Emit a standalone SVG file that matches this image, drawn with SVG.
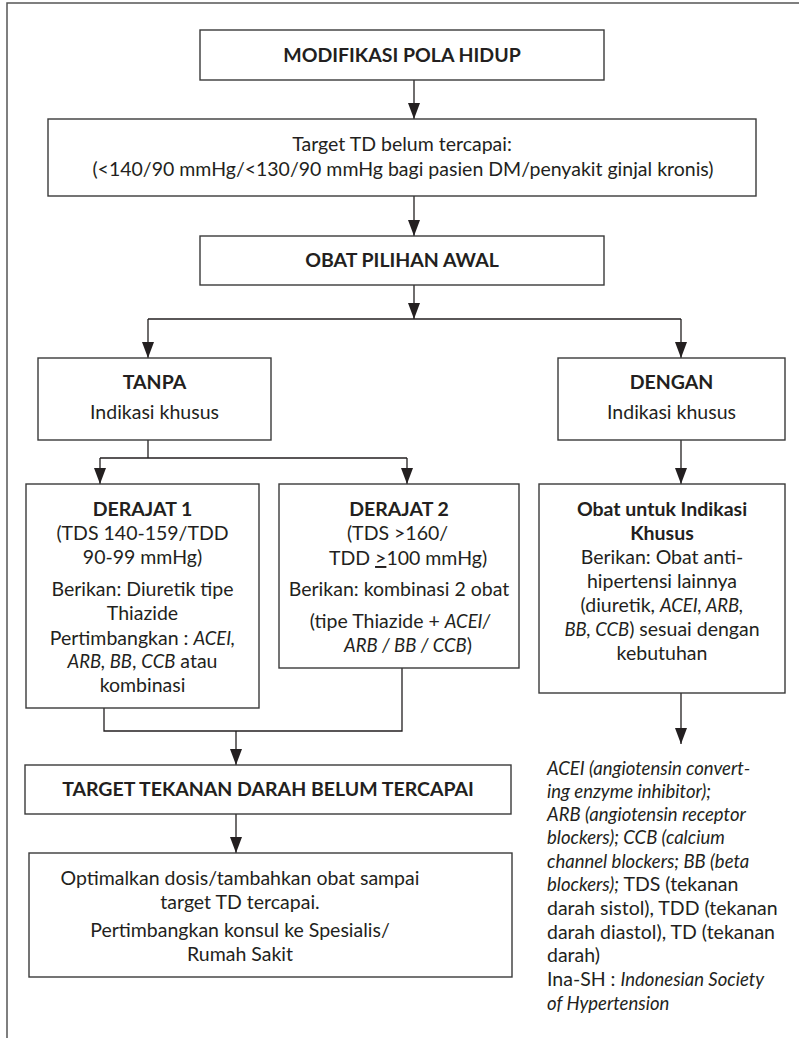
<svg xmlns="http://www.w3.org/2000/svg" width="799" height="1038" viewBox="0 0 799 1038">
<style>
.frame{fill:none;stroke:#555;stroke-width:1.5}
.box{fill:#fff;stroke:#3a3a3a;stroke-width:1.4}
.t{font-family:Lato,"Liberation Sans",sans-serif;font-size:19.5px;fill:#231f20;text-anchor:middle}
.l{text-anchor:start}
.b{font-weight:bold}
.i{font-style:italic;font-size:18.5px}
.c{fill:none;stroke:#231f20;stroke-width:1.3}
</style>
<defs>
<marker id="ah" viewBox="0 0 16 12" refX="16" refY="6" markerWidth="16" markerHeight="12" orient="auto" markerUnits="userSpaceOnUse">
<path d="M0,0 L16,6 L0,12 z" fill="#231f20"/>
</marker>
</defs>
<rect width="799" height="1038" fill="#fff"/>
<path class="frame" d="M7,1038 V3 H799"/>

<g id="connectors">
<path class="c" d="M414,80 V119" marker-end="url(#ah)"/>
<path class="c" d="M414,196 V236" marker-end="url(#ah)"/>
<path class="c" d="M414,285 V319" marker-end="url(#ah)"/>
<path class="c" d="M148,319 H681"/>
<path class="c" d="M148,319 V358" marker-end="url(#ah)"/>
<path class="c" d="M681,319 V358" marker-end="url(#ah)"/>
<path class="c" d="M148,440 V458 M100,458 H407"/>
<path class="c" d="M100,458 V484" marker-end="url(#ah)"/>
<path class="c" d="M407,458 V484" marker-end="url(#ah)"/>
<path class="c" d="M681,440 V484" marker-end="url(#ah)"/>
<path class="c" d="M104,708 V731 H402 V668"/>
<path class="c" d="M236,731 V765" marker-end="url(#ah)"/>
<path class="c" d="M236,814 V853" marker-end="url(#ah)"/>
<path class="c" d="M681,693 V744" marker-end="url(#ah)"/>
</g>

<g id="modifikasi">
<rect class="box" x="200" y="30" width="404" height="50"/>
<text class="t b" x="402" y="62">MODIFIKASI POLA HIDUP</text>
</g>

<g id="target-td">
<rect class="box" x="48" y="119" width="708" height="77"/>
<text class="t" x="402" y="151">Target TD belum tercapai:</text>
<text class="t" x="403" y="176">(&lt;140/90 mmHg/&lt;130/90 mmHg bagi pasien DM/penyakit ginjal kronis)</text>
</g>

<g id="obat-pilihan">
<rect class="box" x="200" y="236" width="404" height="49"/>
<text class="t b" x="402" y="267">OBAT PILIHAN AWAL</text>
</g>

<g id="tanpa">
<rect class="box" x="38" y="358" width="233" height="82"/>
<text class="t b" x="154.5" y="389">TANPA</text>
<text class="t" x="154.5" y="419">Indikasi khusus</text>
</g>

<g id="dengan">
<rect class="box" x="558" y="358" width="227" height="82"/>
<text class="t b" x="671.5" y="389">DENGAN</text>
<text class="t" x="671.5" y="419">Indikasi khusus</text>
</g>

<g id="derajat1">
<rect class="box" x="26" y="484" width="233" height="224"/>
<text class="t b" x="142.5" y="516">DERAJAT 1</text>
<text class="t" x="142.5" y="540">(TDS 140-159/TDD</text>
<text class="t" x="142.5" y="564">90-99 mmHg)</text>
<text class="t" x="142.5" y="596">Berikan: Diuretik tipe</text>
<text class="t" x="142.5" y="620">Thiazide</text>
<text class="t" x="142.5" y="645">Pertimbangkan : <tspan class="i">ACEI,</tspan></text>
<text class="t" x="142.5" y="668"><tspan class="i">ARB, BB</tspan>, <tspan class="i">CCB</tspan> atau</text>
<text class="t" x="142.5" y="692">kombinasi</text>
</g>

<g id="derajat2">
<rect class="box" x="279" y="484" width="240" height="184"/>
<text class="t b" x="399" y="516">DERAJAT 2</text>
<text class="t" x="397.5" y="540">(TDS &gt;160/</text>
<text class="t" x="408" y="565">TDD <tspan text-decoration="underline">&gt;</tspan>100 mmHg)</text>
<text class="t" x="399" y="596">Berikan: kombinasi 2 obat</text>
<text class="t" x="400" y="628">(tipe Thiazide + <tspan class="i">ACEI/</tspan></text>
<text class="t" x="408" y="652"><tspan class="i">ARB / BB / CCB</tspan>)</text>
</g>

<g id="obat-indikasi">
<rect class="box" x="539" y="484" width="246" height="209"/>
<text class="t b" x="662" y="516">Obat untuk Indikasi</text>
<text class="t b" x="662" y="540">Khusus</text>
<text class="t" x="662" y="564">Berikan: Obat anti-</text>
<text class="t" x="662" y="588">hipertensi lainnya</text>
<text class="t" x="662" y="612">(diuretik, <tspan class="i">ACEI, ARB,</tspan></text>
<text class="t" x="662" y="636"><tspan class="i">BB, CCB</tspan>) sesuai dengan</text>
<text class="t" x="662" y="660">kebutuhan</text>
</g>

<g id="target-tekanan">
<rect class="box" x="25" y="765" width="486" height="49"/>
<text class="t b" x="268" y="796">TARGET TEKANAN DARAH BELUM TERCAPAI</text>
</g>

<g id="optimalkan">
<rect class="box" x="29" y="853" width="483" height="124"/>
<text class="t" x="240" y="885">Optimalkan dosis/tambahkan obat sampai</text>
<text class="t" x="240" y="909">target TD tercapai.</text>
<text class="t" x="240" y="937">Pertimbangkan konsul ke Spesialis/</text>
<text class="t" x="240" y="961">Rumah Sakit</text>
</g>

<g id="legend">
<text class="t l i" x="547" y="775">ACEI (angiotensin convert-</text>
<text class="t l i" x="547" y="798">ing enzyme inhibitor);</text>
<text class="t l i" x="547" y="821">ARB (angiotensin receptor</text>
<text class="t l i" x="547" y="844">blockers); CCB (calcium</text>
<text class="t l i" x="547" y="868">channel blockers; BB (beta</text>
<text class="t l" x="547" y="891"><tspan class="i">blockers);</tspan> TDS (tekanan</text>
<text class="t l" x="547" y="915">darah sistol), TDD (tekanan</text>
<text class="t l" x="547" y="939">darah diastol), TD (tekanan</text>
<text class="t l" x="547" y="962">darah)</text>
<text class="t l" x="547" y="986">Ina-SH : <tspan class="i">Indonesian Society</tspan></text>
<text class="t l i" x="547" y="1010">of Hypertension</text>
</g>
</svg>
